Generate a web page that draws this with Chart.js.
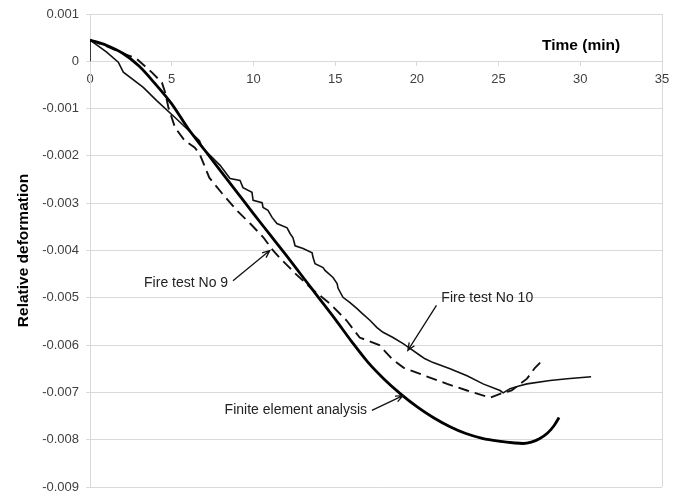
<!DOCTYPE html>
<html lang="en">
<head>
    <meta charset="UTF-8">
    <title>Relative deformation vs time</title>
    <script src="https://cdn.jsdelivr.net/npm/chart.js"></script>
    <style>
        body { margin: 0; background: #fff; }
        .chart-container { position: relative; width: 680px; height: 496px; }
    </style>
</head>
<body>
    <div class="chart-container">
        <canvas id="deformChart" width="680" height="496"></canvas>
    </div>

    <script>
        // Finite element analysis (thick smooth curve)
        const feTime = [0, 1, 2, 3, 4, 5, 6, 7, 8, 9, 10, 11, 12, 13, 14, 15, 16, 17, 18, 19, 20, 21, 22, 23, 24, 25, 26, 26.5, 27, 27.5, 28, 28.4, 28.7];
        const feDef = [0.00045, 0.00034, 0.00017, -0.0001, -0.00048, -0.0009, -0.00142, -0.00187, -0.00232, -0.00277, -0.00322, -0.00366, -0.0041, -0.00455, -0.005, -0.00545, -0.00592, -0.00636, -0.00672, -0.00703, -0.0073, -0.00753, -0.00772, -0.00787, -0.00797, -0.00803, -0.00807, -0.00808, -0.00805, -0.00798, -0.00786, -0.0077, -0.00753];

        // Fire test No 9 (dashed)
        const t9Time = [0, 1, 2.3, 2.8, 3.8, 4.4, 4.6, 4.8, 5.2, 5.8, 6.4, 6.7, 7.3, 8.1, 9.0, 9.8, 10.6, 11.2, 11.6, 12.6, 13.7, 14.7, 15.7, 16.5, 17.7, 18.5, 19.2, 20.2, 21.85, 23.07, 24.48, 25.09, 25.8, 26.74, 27.23, 27.55];
        const t9Def = [0.00045, 0.00032, 0.00013, 0.00007, -0.00024, -0.00045, -0.00066, -0.00098, -0.0014, -0.00168, -0.00182, -0.00195, -0.00246, -0.0028, -0.00316, -0.00343, -0.00372, -0.004, -0.00415, -0.0045, -0.00485, -0.00513, -0.00548, -0.00584, -0.006, -0.0063, -0.00648, -0.00661, -0.00682, -0.00696, -0.00711, -0.00703, -0.00696, -0.00671, -0.00648, -0.00637];

        // Fire test No 10 (thin, jagged)
        const t10Time = [0, 0, 1, 1.73, 2.04, 3.26, 4.08, 5.3, 6.7, 6.85, 7.5, 7.96, 8.57, 9.18, 9.36, 9.91, 9.98, 10.53, 10.59, 10.89, 11.14, 11.44, 12.06, 12.24, 12.42, 12.55, 13.04, 13.59, 13.65, 13.77, 14.26, 14.38, 14.87, 15.12, 15.18, 15.48, 15.91, 16.34, 16.65, 17.14, 17.56, 17.93, 18.54, 19.16, 19.58, 20.2, 20.5, 21.0, 22.03, 23.07, 24.05, 25.09, 25.28, 25.7, 26.3, 26.74, 28.15, 29.2, 30.66];
        const t10Def = [0, 0.00045, 0.0002, -0.00002, -0.00023, -0.00055, -0.00083, -0.00122, -0.00168, -0.00182, -0.00204, -0.0022, -0.00248, -0.00252, -0.00267, -0.00277, -0.00294, -0.00299, -0.00309, -0.00315, -0.0033, -0.00343, -0.00352, -0.00364, -0.00373, -0.0039, -0.00396, -0.00405, -0.00415, -0.00428, -0.00436, -0.00442, -0.00457, -0.0047, -0.0048, -0.00499, -0.0051, -0.00523, -0.00533, -0.00548, -0.00563, -0.00573, -0.00584, -0.00597, -0.00607, -0.00622, -0.00629, -0.00637, -0.0065, -0.00665, -0.00682, -0.00696, -0.00701, -0.00692, -0.00686, -0.00682, -0.00675, -0.00671, -0.00667];

        const xTicks = [0, 5, 10, 15, 20, 25, 30, 35];
        const yTicks = [0.001, 0, -0.001, -0.002, -0.003, -0.004, -0.005, -0.006, -0.007, -0.008, -0.009];

        const toPoints = (xs, ys) => xs.map((x, i) => ({ x: x, y: ys[i] }));

        const GRID = '#d9d9d9';
        const FONT = '"Liberation Sans", Arial, sans-serif';

        // labels + arrows, placed in data units
        const notesPlugin = {
            id: 'notes',
            afterDatasetsDraw(chart) {
                const { ctx, scales: { x, y } } = chart;
                const px = (t, v) => [x.getPixelForValue(t), y.getPixelForValue(v)];

                ctx.save();
                ctx.fillStyle = '#000';
                ctx.font = 'bold 15.5px ' + FONT;
                ctx.textAlign = 'center';
                ctx.textBaseline = 'middle';
                let p = px(30.05, 0.00033);
                ctx.fillText('Time (min)', p[0], p[1]);

                ctx.font = '14px ' + FONT;
                ctx.fillStyle = '#222';

                ctx.textAlign = 'right';
                p = px(8.45, -0.00468);
                ctx.fillText('Fire test No 9', p[0], p[1]);
                p = px(16.95, -0.00738);
                ctx.fillText('Finite element analysis', p[0], p[1]);

                ctx.textAlign = 'left';
                p = px(21.5, -0.005);
                ctx.fillText('Fire test No 10', p[0], p[1]);

                const arrow = (a, b) => {
                    const [x0, y0] = px(a[0], a[1]);
                    const [x1, y1] = px(b[0], b[1]);
                    const ang = Math.atan2(y1 - y0, x1 - x0);
                    ctx.beginPath();
                    ctx.moveTo(x0, y0);
                    ctx.lineTo(x1, y1);
                    ctx.moveTo(x1 - 8 * Math.cos(ang - 0.4), y1 - 8 * Math.sin(ang - 0.4));
                    ctx.lineTo(x1, y1);
                    ctx.lineTo(x1 - 8 * Math.cos(ang + 0.4), y1 - 8 * Math.sin(ang + 0.4));
                    ctx.stroke();
                };
                ctx.strokeStyle = '#111';
                ctx.lineWidth = 1.3;
                arrow([8.75, -0.00464], [11.0, -0.0040]);
                arrow([21.2, -0.00516], [19.45, -0.00611]);
                arrow([17.25, -0.00738], [19.15, -0.00707]);
                ctx.restore();
            }
        };

        const ctx = document.getElementById('deformChart').getContext('2d');
        const deformChart = new Chart(ctx, {
            type: 'line',
            data: {
                datasets: [
                    {
                        label: 'Finite element analysis',
                        data: toPoints(feTime, feDef),
                        borderColor: '#000',
                        borderWidth: 2.8,
                        pointRadius: 0,
                        cubicInterpolationMode: 'monotone'
                    },
                    {
                        label: 'Fire test No 9',
                        data: toPoints(t9Time, t9Def),
                        borderColor: '#111',
                        borderWidth: 1.9,
                        borderDash: [11, 6],
                        pointRadius: 0,
                        tension: 0
                    },
                    {
                        label: 'Fire test No 10',
                        data: toPoints(t10Time, t10Def),
                        borderColor: '#111',
                        borderWidth: 1.6,
                        pointRadius: 0,
                        tension: 0
                    }
                ]
            },
            options: {
                responsive: false,
                animation: false,
                layout: { padding: { left: 0, right: 18, top: 14, bottom: 9 } },
                plugins: {
                    legend: { display: false },
                    tooltip: { enabled: false }
                },
                scales: {
                    x: {
                        type: 'linear',
                        position: { y: 0 },
                        min: 0,
                        max: 35,
                        afterBuildTicks: (scale) => { scale.ticks = xTicks.map(v => ({ value: v })); },
                        grid: {
                            color: (c) => (c.tick && c.tick.value === 35) ? GRID : 'rgba(0,0,0,0)',
                            tickColor: GRID,
                            tickLength: 4,
                            lineWidth: 1
                        },
                        border: { display: true, color: GRID },
                        ticks: {
                            color: '#404040',
                            font: { family: FONT, size: 13 },
                            padding: 6,
                            maxRotation: 0
                        }
                    },
                    y: {
                        type: 'linear',
                        min: -0.009,
                        max: 0.001,
                        afterBuildTicks: (scale) => { scale.ticks = yTicks.map(v => ({ value: v })); },
                        afterFit: (scale) => {
                            scale.width = 90;
                            scale.paddingTop = 0;
                            scale.paddingBottom = 0;
                        },
                        grid: {
                            color: GRID,
                            tickColor: GRID,
                            tickLength: 4,
                            lineWidth: 1
                        },
                        border: { display: true, color: GRID },
                        ticks: {
                            color: '#404040',
                            font: { family: FONT, size: 13 },
                            padding: 7,
                            callback: (v) => Math.abs(v) < 1e-9 ? '0' : Number(v).toFixed(3)
                        },
                        title: {
                            display: true,
                            text: 'Relative deformation',
                            color: '#000',
                            font: { family: FONT, size: 15.5, weight: 'bold' },
                            padding: { top: 14, bottom: 0 }
                        }
                    }
                }
            },
            plugins: [notesPlugin]
        });
    </script>
</body>
</html>
